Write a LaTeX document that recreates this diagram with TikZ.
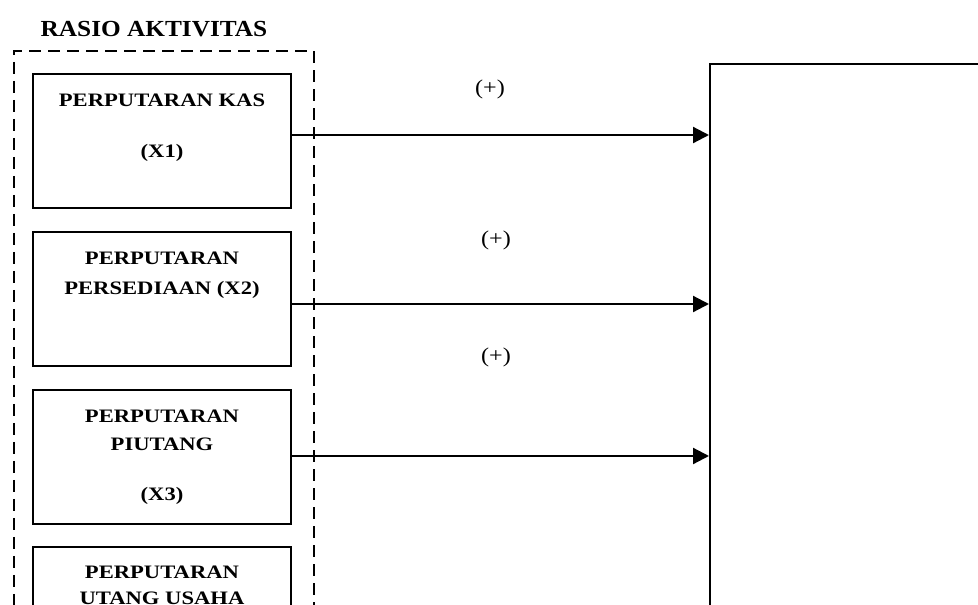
\documentclass[tikz,border=0pt]{standalone}
\usepackage{fontspec}
\setmainfont{Liberation Serif}
\newfontfamily\boxfont[FakeStretch=1.19]{Liberation Serif}
\newfontfamily\signfont[FakeStretch=1.15]{Liberation Serif}
\newfontfamily\titlefont[FakeStretch=1.1]{Liberation Serif}
\usetikzlibrary{arrows.meta}
\begin{document}
\begin{tikzpicture}[x=1pt,y=-1pt,
  box/.style={draw, line width=2pt, minimum width=258pt, minimum height=134pt, inner sep=0pt, anchor=north west},
  group/.style={draw, line width=1.7pt, dash pattern=on 12pt off 7pt, minimum width=300pt, minimum height=700pt, inner sep=0pt, anchor=north west},
  target/.style={draw, line width=1.7pt, minimum width=400pt, minimum height=700pt, inner sep=0pt, anchor=north west},
  txt/.style={font=\boxfont\bfseries\fontsize{19}{22}\selectfont, anchor=base, inner sep=0pt},
  ttl/.style={font=\titlefont\bfseries\fontsize{23}{26}\selectfont, anchor=base, inner sep=0pt},
  sign/.style={font=\signfont\fontsize{21}{24}\selectfont, inner sep=0pt},
  link/.style={line width=2.2pt, -{Triangle[length=16pt,width=16pt]}}]
\useasboundingbox (0,0) rectangle (978,605);
\clip (0,0) rectangle (978,605);
% group and title
\node[group] (grp) at (13,50) {};
\node[ttl] (title) at (154,36) {RASIO AKTIVITAS};
% boxes
\node[box] (b1) at (32,73) {};
\node[box] (b2) at (32,231) {};
\node[box] (b3) at (32,389) {};
\node[box] (b4) at (32,546) {};
% box texts
\node[txt] (b1a) at ([yshift=-33pt]b1.north) {PERPUTARAN KAS};
\node[txt] (b1b) at ([yshift=-84pt]b1.north) {(X1)};
\node[txt] (b2a) at ([yshift=-33pt]b2.north) {PERPUTARAN};
\node[txt] (b2b) at ([yshift=-63pt]b2.north) {PERSEDIAAN (X2)};
\node[txt] (b3a) at ([yshift=-33pt]b3.north) {PERPUTARAN};
\node[txt] (b3b) at ([yshift=-61pt]b3.north) {PIUTANG};
\node[txt] (b3c) at ([yshift=-111pt]b3.north) {(X3)};
\node[txt] (b4a) at ([yshift=-32pt]b4.north) {PERPUTARAN};
\node[txt] (b4b) at ([yshift=-58pt]b4.north) {UTANG USAHA};
% target box
\node[target] (R) at (709,63) {};
% connectors
\draw[link] ([yshift=6pt]b1.east) -- ([yshift=6pt]b1.east -| R.west);
\draw[link] ([yshift=-5pt]b2.east) -- ([yshift=-5pt]b2.east -| R.west);
\draw[link] ([yshift=1pt]b3.east) -- ([yshift=1pt]b3.east -| R.west);
% signs
\node[sign] (s1) at (490,89) {(+)};
\node[sign] (s2) at (496,240) {(+)};
\node[sign] (s3) at (496,357) {(+)};
\end{tikzpicture}
\end{document}
